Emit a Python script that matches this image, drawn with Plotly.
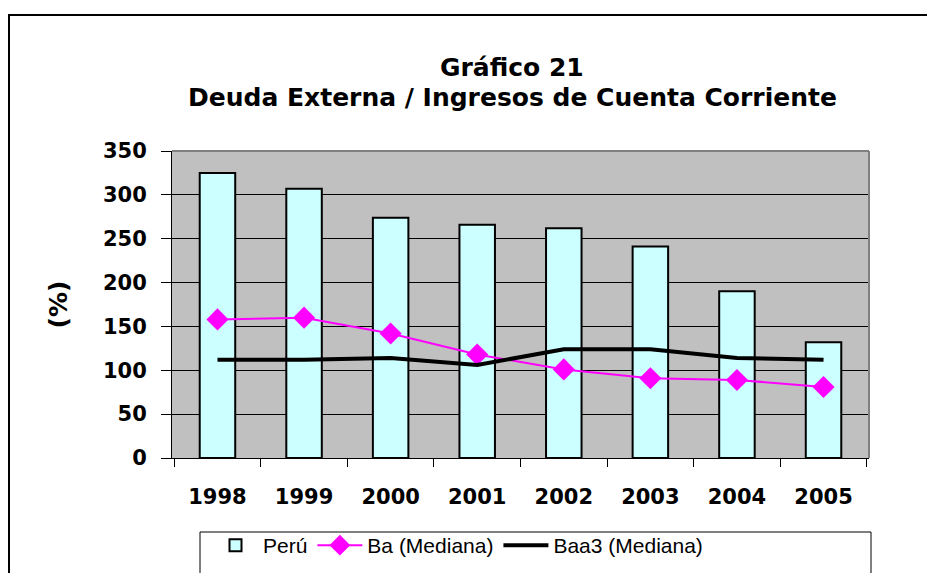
import plotly.graph_objects as go

years = ["1998", "1999", "2000", "2001", "2002", "2003", "2004", "2005"]
peru = [325, 307, 274, 266, 262, 241, 190, 132]
ba_mediana = [158, 160, 142, 118, 101, 91, 89, 81]
baa3_mediana = [112, 112, 114, 106, 124, 124, 114, 112]

OFF = 8  # page body margin
W, H = 935 - 2 * OFF, 581 - 2 * OFF
L, T = 172 - OFF, 151 - OFF
pw, ph = 697, 307
R, B = W - L - pw, H - T - ph

def px_x(x):
    return (x - OFF - L) / pw

def px_y(y):
    return (T + ph - (y - OFF)) / ph

fig = go.Figure()
fig.add_trace(go.Bar(
    x=years, y=peru, name="Perú",
    marker=dict(color="#CCFFFF", line=dict(color="black", width=2)),
))
fig.add_trace(go.Scatter(
    x=years, y=ba_mediana, name="Ba (Mediana)", mode="lines+markers",
    line=dict(color="#FF00FF", width=2),
    marker=dict(symbol="diamond", size=17, color="#FF00FF"),
))
fig.add_trace(go.Scatter(
    x=years, y=baa3_mediana, name="Baa3 (Mediana)", mode="lines",
    line=dict(color="black", width=4),
))

bold_fam = "DejaVu Sans, Arial, sans-serif"
reg_fam = "Liberation Sans, Arial, sans-serif"

fig.update_layout(
    width=W, height=H,
    margin=dict(l=L, r=R, t=T, b=B, autoexpand=False),
    paper_bgcolor="white",
    plot_bgcolor="#C0C0C0",
    bargap=0.59,
    font=dict(family=bold_fam, color="black"),
    xaxis=dict(
        type="category",
        automargin=False,
        showgrid=False,
        showline=True, linecolor="black", linewidth=1,
        ticks="outside", tickson="boundaries", ticklen=8, tickcolor="black",
        tickfont=dict(size=21, weight="bold", family=bold_fam),
        ticklabelstandoff=20,
    ),
    yaxis=dict(
        range=[0, 350], dtick=50,
        automargin=False,
        showgrid=True, gridcolor="black", gridwidth=1,
        showline=True, linecolor="black", linewidth=1,
        ticks="outside", ticklen=10, tickcolor="black",
        tickfont=dict(size=21, weight="bold", family=bold_fam),
        ticklabelstandoff=10,
        zeroline=False,
        title=dict(text="(%)", font=dict(size=25, weight="bold", family=bold_fam), standoff=28),
    ),
    legend=dict(
        orientation="h",
        x=px_x(208), xanchor="left",
        y=px_y(525), yanchor="top",
        borderwidth=0,
        bgcolor="rgba(0,0,0,0)",
        font=dict(size=21, family=reg_fam),
        itemwidth=45,
        traceorder="normal",
    ),
    annotations=[
        dict(text="Gráfico 21", xref="paper", yref="paper",
             x=px_x(512), y=px_y(67), xanchor="center", yanchor="middle",
             showarrow=False,
             font=dict(size=25, weight="bold", family=bold_fam)),
        dict(text="Deuda Externa / Ingresos de Cuenta Corriente", xref="paper", yref="paper",
             x=px_x(512), y=px_y(98), xanchor="center", yanchor="middle",
             showarrow=False,
             font=dict(size=25, weight="bold", family=bold_fam)),
    ],
    shapes=[
        # outer chart frame
        dict(type="rect", xref="paper", yref="paper",
             x0=px_x(9), x1=px_x(960), y0=px_y(15), y1=px_y(620),
             line=dict(color="black", width=2), layer="below"),
        # legend frame
        dict(type="rect", xref="paper", yref="paper",
             x0=px_x(200), x1=px_x(871), y0=px_y(532), y1=px_y(620),
             line=dict(color="black", width=1), layer="below"),
        # plot area top/right gray border
        dict(type="line", xref="paper", yref="paper",
             x0=0, x1=1, y0=1, y1=1, line=dict(color="#808080", width=2)),
        dict(type="line", xref="paper", yref="paper",
             x0=1, x1=1, y0=0, y1=1, line=dict(color="#808080", width=2)),
    ],
)

fig.write_html("out.html")
